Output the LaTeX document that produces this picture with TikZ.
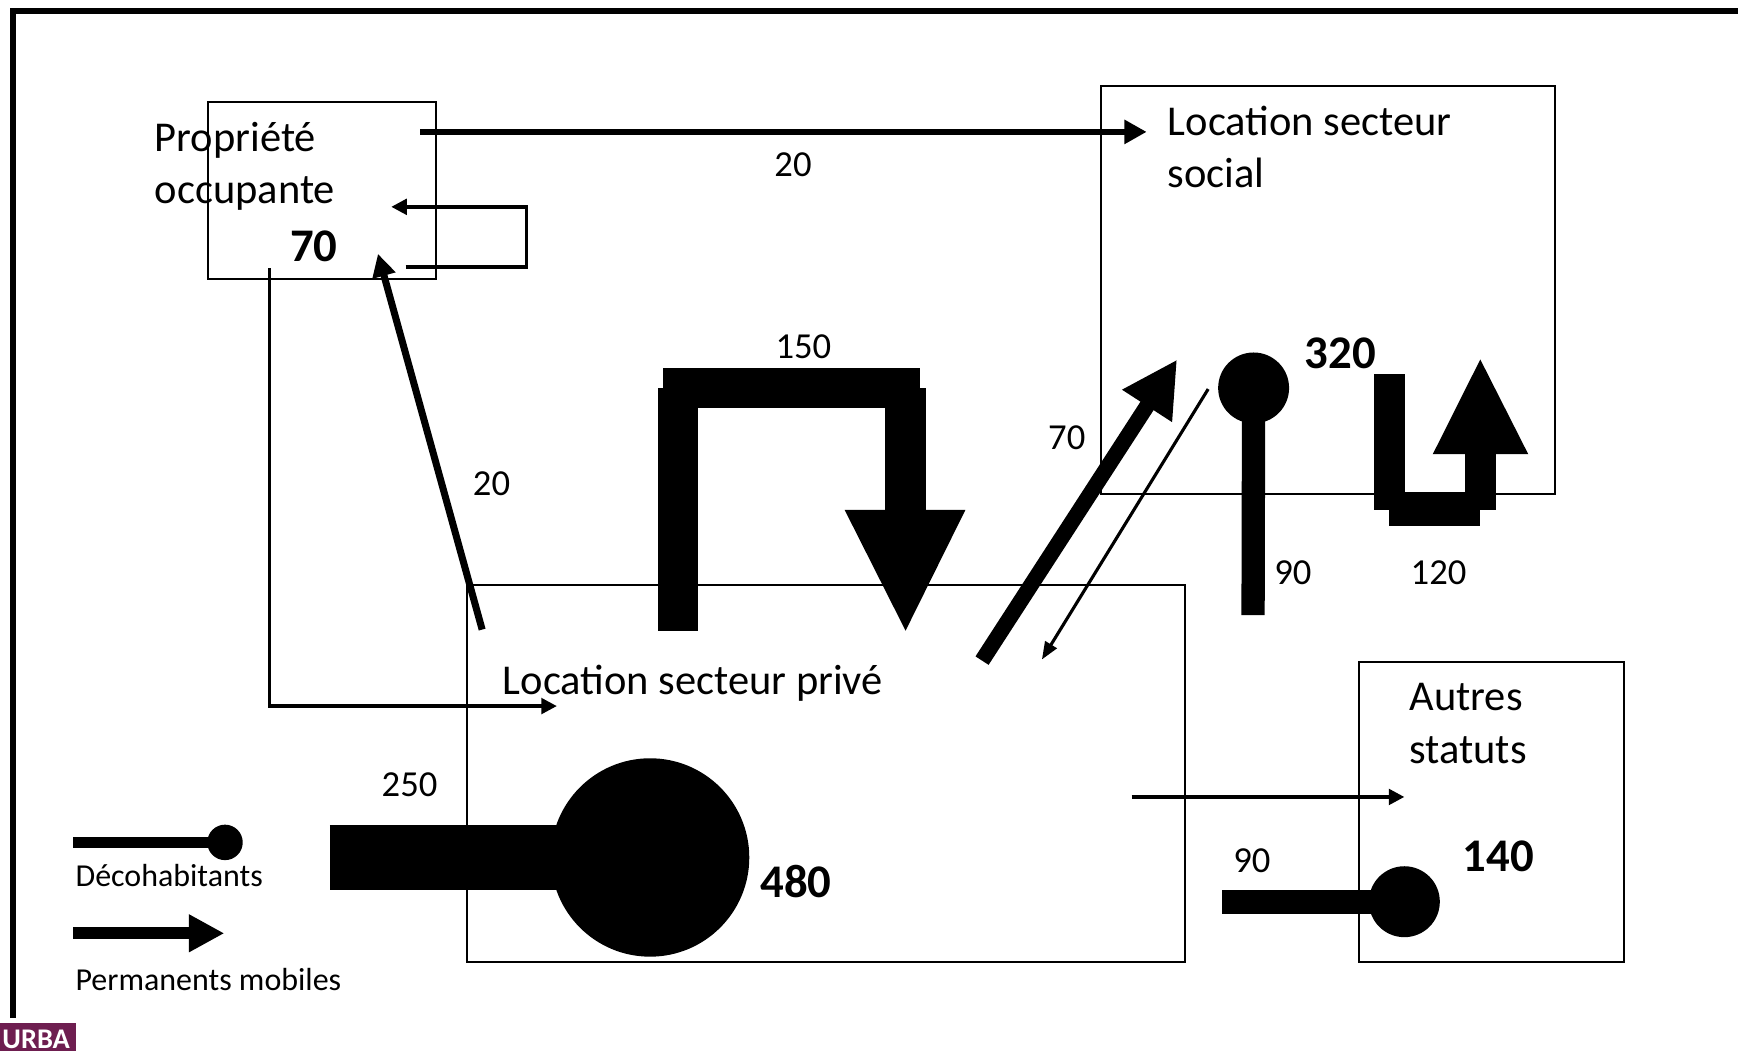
\documentclass[tikz,border=0pt]{standalone}
\usepackage{fontspec}
\setmainfont{Carlito}
\usetikzlibrary{arrows.meta}
\definecolor{urbaviolet}{RGB}{110,30,80}

\begin{document}
\begin{tikzpicture}[x=0.01cm,y=-0.01cm,
        box/.style={draw,line width=0.5pt},
        txt/.style={anchor=base west,inner sep=0pt,align=left,font=\fontsize{10.9}{13.4}\selectfont},
        val/.style={anchor=base west,inner sep=0pt,font=\fontsize{9.4}{11}\selectfont},
        tot/.style={anchor=base west,inner sep=0pt,font=\bfseries\fontsize{12}{14}\selectfont},
        leg/.style={anchor=base west,inner sep=0pt,font=\fontsize{8.2}{10}\selectfont},
        thinflow/.style={line width=0.9pt,-{Triangle[length=4pt,width=4pt]}}]
        \useasboundingbox(0,0)rectangle(1568,948);
        % cadre et logo
        \draw[line width=1.45pt](11.5,918.5)--(11.5,9.8)--(1570,9.8);
        \fill[urbaviolet](0,923.3)rectangle(68.6,950);
        \node[anchor=base west,inner sep=0pt,text=white,font=\bfseries\fontsize{7.3}{8}\selectfont](urba)at(1.5,946){URBA};
        % statuts
        \coordinate(PO1)at(188,92);\coordinate(PO2)at(393,252);
        \coordinate(SO1)at(993,78);\coordinate(SO2)at(1403,446);
        \coordinate(PR1)at(421,528);\coordinate(PR2)at(1069,868);
        \coordinate(AU1)at(1226,597);\coordinate(AU2)at(1465,868);
        \draw[box](PO1)rectangle(PO2);
        \draw[box](SO1)rectangle(SO2);
        \draw[box](PR1)rectangle(PR2);
        \draw[box](AU1)rectangle(AU2);
        \node[txt](tPO)at(139,184){Propriété\\occupante};
        \node[txt](tSO)at(1053,169.5){Location secteur\\social};
        \node[txt](tPR)at(453,627){Location secteur privé};
        \node[txt](tAU)at(1271,688.5){Autres\\statuts};
        \node[tot](nPO)at(261,236){70};
        \node[tot](nSO)at(1176.6,332.2){320};
        \node[tot](nPR)at(685.4,809.6){480};
        \node[tot](nAU)at(1319,786.6){140};
        % permanents mobiles
        \coordinate(a1)at(379,119);\coordinate(a2)at(1034.5,119);
        \draw[line width=1.5pt,-{Triangle[length=5.7pt,width=5.9pt]}](a1)--(a2);
        \node[val](v1)at(698,159){20};
        \coordinate(b1)at(366,241);\coordinate(b2)at(353,186.6);
        \draw[thinflow](b1)-|(475,213.8)|-(b2);
        \coordinate(c1)at(243,242);\coordinate(c2)at(502.4,637);
        \draw[thinflow](c1)|-(c2);
        \coordinate(d1)at(435,568);\coordinate(d2)at(341,229);
        \draw[line width=1.8pt,-{Triangle[length=5.8pt,width=5.8pt]}](d1)--(d2);
        \node[val](v2)at(426,447){20};
        \fill(594,350)rectangle(630,569);
        \fill(598,332)rectangle(830,368);
        \fill(798,350)rectangle(835,460);
        \fill(762,460)--(871,460)--(817,569)--cycle;
        \node[val](v3)at(699,323){150};
        \coordinate(e1)at(886,596);\coordinate(e2)at(1062,324.3);
        \draw[line width=4pt,-{Triangle[length=14.2pt,width=14.2pt]}](e1)--(e2);
        \node[val](v4)at(945,405.7){70};
        \coordinate(f1)at(1090,351);\coordinate(f2)at(940,595);
        \draw[line width=0.8pt,-{Triangle[length=4.5pt,width=3.4pt]}](f1)--(f2);
        \fill(1239.4,337.4)rectangle(1267.9,459.8);
        \fill(1253.5,444.3)rectangle(1335.5,474.3);
        \fill(1321.9,409.8)rectangle(1349.9,459.8);
        \fill(1292.6,409.8)--(1378.8,409.8)--(1335.5,324.3)--cycle;
        \node[val](v5)at(1272,527.7){120};
        \coordinate(g1)at(1021,719);\coordinate(g2)at(1267,719);
        \draw[thinflow](g1)--(g2);
        % decohabitants
        \coordinate(h1)at(297.7,773.6);\coordinate(h2)at(586.5,773.6);
        \draw[line width=5.9mm](h1)--(h2);
        \fill(h2)circle[radius=89.5];
        \node[val](v6)at(343.7,719){250};
        \coordinate(k1)at(1130.5,555);\coordinate(k2)at(1131,350);
        \draw[line width=2.1mm](k1)--(k2);
        \fill(k2)circle[radius=32];
        \node[val](v7)at(1149,527.7){90};
        \coordinate(m1)at(1102.6,813.5);\coordinate(m2)at(1267,813.5);
        \draw[line width=2.15mm](m1)--(m2);
        \fill(m2)circle[radius=32];
        \node[val](v8)at(1112,787){90};
        % legende
        \coordinate(L1)at(66,760);\coordinate(L2)at(203,760);
        \draw[line width=1.04mm](L1)--(L2);
        \fill(L2)circle[radius=16];
        \node[leg](lD)at(67.5,799.5){Décohabitants};
        \coordinate(L3)at(66,842);\coordinate(L4)at(202.4,842);
        \draw[line width=1.05mm,-{Triangle[length=9.1pt,width=9.1pt]}](L3)--(L4);
        \node[leg](lP)at(67.5,894){Permanents mobiles};
    \end{tikzpicture}
\end{document}
